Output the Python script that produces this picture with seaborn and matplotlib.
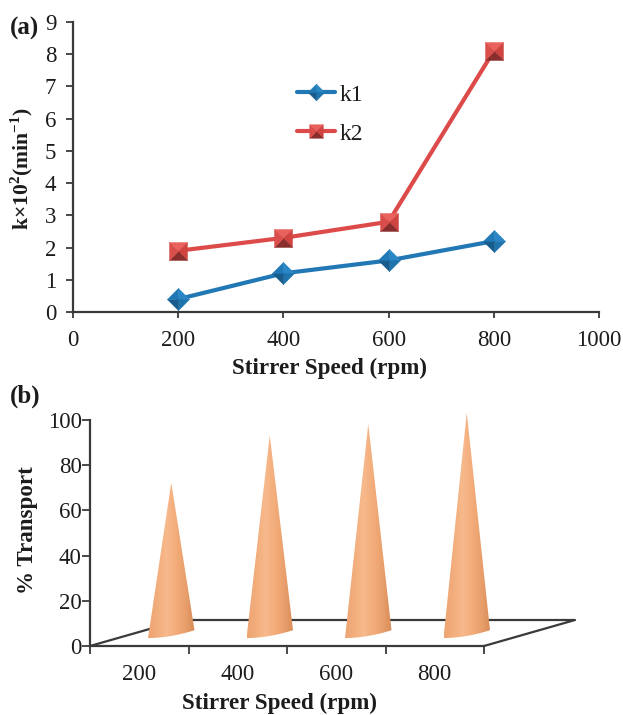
import numpy as np
import pandas as pd
import matplotlib
matplotlib.use('Agg')
import matplotlib.pyplot as plt
import seaborn as sns
from matplotlib.lines import Line2D
from matplotlib.path import Path
from matplotlib.legend_handler import HandlerTuple
from matplotlib.patches import PathPatch

speed = [200, 400, 600, 800]
k1 = [0.4, 1.2, 1.6, 2.2]
k2 = [1.9, 2.3, 2.8, 8.1]
speed_labels = ['200', '400', '600', '800']
transport = [67, 88, 93, 98]

W, H = 623, 715

sns.set_theme(style='white')
plt.rcParams['font.family'] = ['Liberation Serif', 'DejaVu Serif']
plt.rcParams['mathtext.fontset'] = 'custom'
plt.rcParams['mathtext.rm'] = 'Liberation Serif'
plt.rcParams['mathtext.bf'] = 'Liberation Serif:bold'
plt.rcParams['axes.unicode_minus'] = False

AXIS = '#3a3a3a'
TEXT = '#1c1c1c'


def px_axes(fig, left, right, top, bottom):
    return fig.add_axes([left / W, 1 - bottom / H, (right - left) / W, (bottom - top) / H])


def place_label(axis, x, y):
    # label centre in axes fractions
    axis.set_label_coords(x, y)
    axis.label.set_va('center')


fig = plt.figure(figsize=(W / 100, H / 100), dpi=100)

# (a) rate constants
ax = px_axes(fig, 73, 599, 22, 312)
df = pd.DataFrame({'speed': speed * 2, 'k': k1 + k2, 'name': ['k1'] * 4 + ['k2'] * 4})
sns.lineplot(data=df, x='speed', y='k', hue='name', palette=['#2178b5', '#dc4a4a'],
             linewidth=3, legend=False, ax=ax, clip_on=False)

# pyramid style markers, four shaded facets each
centre = (0, 0)
diamond = [(0, 1), (1, 0), (0, -1), (-1, 0)]
square = [(-1, 1), (1, 1), (1, -1), (-1, -1)]


def facets(corners):
    out = []
    for i in range(4):
        out.append(Path([centre, corners[i], corners[(i + 1) % 4], centre], closed=True))
    return out


def marker_lines(xs, ys, corners, cols, size):
    lines = []
    for p, c in zip(facets(corners), cols):
        lines.append(ax.plot(xs, ys, ls='none', marker=p, ms=size, mfc=c, mec=c, mew=0.3,
                             clip_on=False, zorder=4)[0])
    return lines


blue_cols = ['#2a86c4', '#1f74ae', '#175c8c', '#2079b6']
red_cols = ['#ea625e', '#cf4441', '#8a2e2d', '#d94e4b']
h1 = marker_lines(speed, k1, diamond, blue_cols, 16)
h2 = marker_lines(speed, k2, square, red_cols, 13)

ax.set_xlim(0, 1000)
ax.set_ylim(0, 9)
ax.set_xticks([0, 200, 400, 600, 800, 1000])
ax.set_yticks(range(0, 10))
ax.tick_params(axis='x', direction='out', length=4, width=1.3, color=AXIS, labelsize=16.5,
               labelcolor=TEXT, pad=9, bottom=True)
ax.tick_params(axis='y', direction='out', length=5, width=1.3, color=AXIS, labelsize=16.5,
               labelcolor=TEXT, pad=7, left=True)
sns.despine(ax=ax)
for s in ['left', 'bottom']:
    ax.spines[s].set_color(AXIS)
    ax.spines[s].set_linewidth(1.6)
ax.set_xlabel('Stirrer Speed (rpm)', fontsize=16.6, fontweight='bold', color=TEXT)
ax.set_ylabel(r'k×10$^{\mathbf{2}}$(min$^{\mathbf{-1}}$)', fontsize=15.6, fontweight='bold', color=TEXT)
place_label(ax.xaxis, (330 - 73) / 526, -(368 - 312) / 290)
place_label(ax.yaxis, (22 - 73) / 526, 1 - (169 - 22) / 290)

line1 = Line2D([], [], color='#2178b5', lw=3)
line2 = Line2D([], [], color='#dc4a4a', lw=3)
leg = ax.legend([tuple([line1] + h1), tuple([line2] + h2)], ['k1', 'k2'],
                handler_map={tuple: HandlerTuple(ndivide=1, pad=0)},
                loc='upper left', bbox_to_anchor=((297 - 73) / 526, 1 - (84 - 22) / 290),
                frameon=False, fontsize=17, handlelength=1.6, handletextpad=0.2,
                labelspacing=0.75, borderpad=0, borderaxespad=0, labelcolor=TEXT,
                markerscale=0.75)

fig.text(10 / W, 1 - 35 / H, '(a)', fontsize=18, fontweight='bold', color=TEXT)

# (b) transport, excel style 3d cones
bx = px_axes(fig, 90, 484, 420, 646)
tdf = pd.DataFrame({'speed': speed_labels, 'transport': transport})
sns.barplot(data=tdf, x='speed', y='transport', ax=bx, alpha=0)
bx.set_xlim(-0.5, 3.5)
bx.set_ylim(0, 100)

# depth of the floor and of the cone row in data units
depth_x, depth_y = 0.924, 11.5
mid_x, mid_y = 0.325, 5.25
half_w = 0.236

shade_cols = ['#eda572', '#f3ae7d', '#f7b98c', '#f3ac7a', '#e9a06c', '#d98c58']
cone_cmap = matplotlib.colors.LinearSegmentedColormap.from_list('cone', shade_cols)

for bar in bx.patches:
    cx = bar.get_x() + bar.get_width() / 2 + mid_x
    top = bar.get_height() + mid_y
    u = np.linspace(-1, 1, 40)
    base_x = cx + half_w * u
    base_y = mid_y + 1.75 * u - 0.8 * (1 - u ** 2)
    verts = [(cx, top)] + list(zip(base_x, base_y)) + [(cx, top)]
    clip = PathPatch(Path(verts), fc='none', ec='none', transform=bx.transData, clip_on=False)
    bx.add_patch(clip)
    im = bx.imshow(np.linspace(0, 1, 64).reshape(1, -1), cmap=cone_cmap, aspect='auto',
                   extent=(cx - half_w, cx + half_w, 0, top + 1), zorder=3)
    im.set_clip_path(clip)
    # cones stick out of the axes box
    im.set_clip_box(fig.bbox)
bx.set_xlim(-0.5, 3.5)
bx.set_ylim(0, 100)

# floor of the 3d box
floor_x = [-0.5, -0.5 + depth_x, 3.5 + depth_x, 3.5]
floor_y = [0, depth_y, depth_y, 0]
bx.plot(floor_x, floor_y, color=AXIS, lw=1.6, clip_on=False, zorder=2)

bx.set_xticks([-0.5, 0.5, 1.5, 2.5, 3.5])
bx.set_xticklabels([])
bx.set_xticks([0, 1, 2, 3], minor=True)
bx.set_xticklabels(speed_labels, minor=True)
bx.set_yticks(range(0, 101, 20))
bx.tick_params(axis='both', which='major', direction='out', length=6, width=1.3, color=AXIS,
               labelsize=16.5, labelcolor=TEXT, pad=0, left=True, bottom=True)
bx.tick_params(axis='x', which='minor', length=0, labelsize=16.5, labelcolor=TEXT, pad=13, bottom=False)
sns.despine(ax=bx)
for s in ['left', 'bottom']:
    bx.spines[s].set_color(AXIS)
    bx.spines[s].set_linewidth(1.6)
bx.set_xlabel('Stirrer Speed (rpm)', fontsize=16.6, fontweight='bold', color=TEXT)
bx.set_ylabel('% Transport', fontsize=16.6, fontweight='bold', color=TEXT)
place_label(bx.xaxis, (279 - 90) / 394, -(703 - 646) / 226)
place_label(bx.yaxis, (27 - 90) / 394, 1 - (530 - 420) / 226)

fig.text(10 / W, 1 - 403 / H, '(b)', fontsize=18, fontweight='bold', color=TEXT)

fig.savefig('out.png', dpi=100)
